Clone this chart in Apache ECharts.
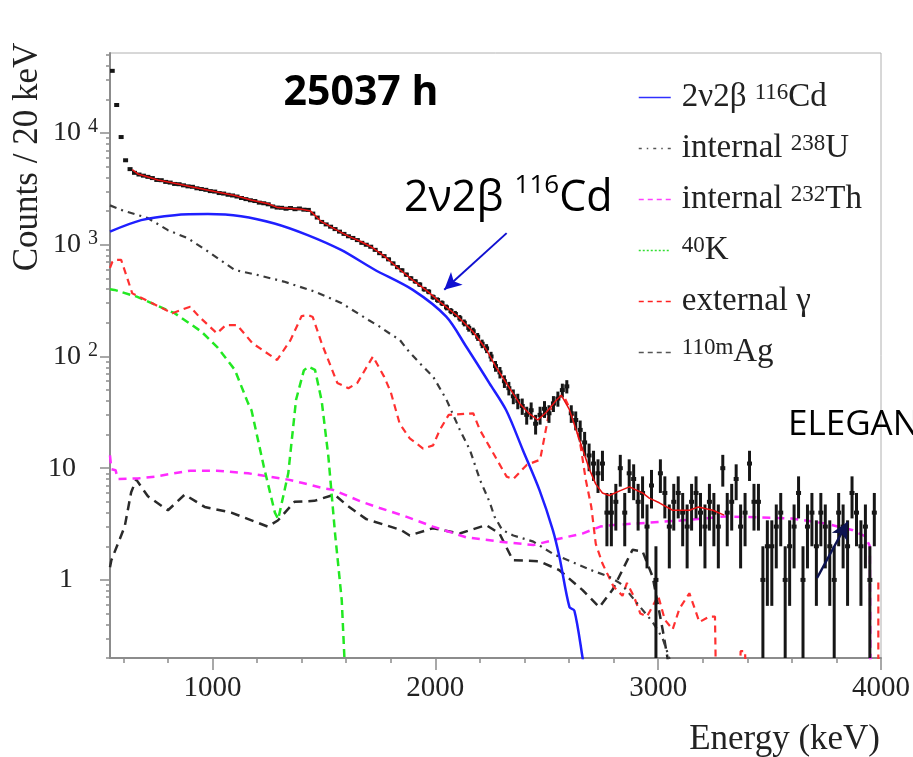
<!DOCTYPE html>
<html>
<head>
<meta charset="utf-8">
<script src="https://cdn.jsdelivr.net/npm/echarts@6/dist/echarts.min.js"></script>
<style>
  html, body { margin: 0; padding: 0; background: #ffffff; }
  #chart { width: 913px; height: 757px; }
</style>
</head>
<body>
<div id="chart"></div>
<script>
// Energy spectrum, 20 keV bins, first bin centred at 550 keV
const firstBinCenter = 550;
const binWidth = 20;
const counts = [
  36000, 17800, 9200, 5700, 4750, 4400, 4250, 4150, 4050, 3950,
  3800, 3780, 3650, 3600, 3500, 3480, 3400, 3330, 3300, 3200,
  3150, 3100, 3020, 2990, 2900, 2870, 2800, 2760, 2700, 2620,
  2560, 2500, 2460, 2380, 2350, 2300, 2200, 2150, 2140, 2100,
  2130, 2080, 2110, 2060, 2050, 1900, 1750, 1600, 1520, 1450,
  1380, 1310, 1250, 1190, 1150, 1100, 1040, 1000, 960, 900,
  840, 790, 740, 680, 630, 590, 540, 500, 470, 440,
  400, 380, 340, 320, 300, 275, 255, 240, 220, 200,
  180, 168, 150, 130, 118, 100, 82, 72, 60, 52,
  44, 40, 36, 30, 33, 25, 30, 34, 31, 38,
  42, 50, 54, 31, 27, 22, 17, 13, 11, 9,
  11, 4, 4, 5, 10, 4, 9, 8, 5, 6,
  3, 7, 1, 9, 6, 3, 5, 6, 4, 3,
  5, 6, 4, 3, 5, 4, 3, 10, 4, 5,
  8, 3, 4, 11, 5, 5, 1, 2, 2, 3,
  4, 1, 2, 3, 6, 1, 3, 4, 2, 4,
  3, 2, 1, 4, 3, 2, 6, 4, 2, 3,
  1, 4
];

// Fit model components, [energy keV, counts / 20 keV]
const totalFit = [[640,4700],[665,4300],[700,4100],[755,3800],[830,3550],[904,3310],[1009,2990],[1100,2760],[1173,2510],[1250,2330],[1293,2150],[1340,2120],[1400,2080],[1440,2000],[1487,1620],[1550,1380],[1607,1200],[1660,1080],[1711,960],[1771,790],[1840,600],[1900,480],[1960,390],[2019,310],[2094,235],[2168,167],[2228,116],[2273,80],[2333,52],[2378,38],[2420,31],[2460,27],[2500,32],[2540,40],[2565,45],[2600,34],[2632,22],[2660,15],[2691,9.8],[2720,7.2],[2750,6.0],[2781,5.7],[2830,6.3],[2871,6.8],[2930,6.0],[2960,5.4],[3005,4.9],[3065,4.2],[3140,4.2],[3180,4.5],[3245,4.2],[3296,3.8]];
const cd116 = [[540,1310],[680,1660],[830,1840],[979,1880],[1128,1800],[1278,1550],[1427,1220],[1577,898],[1726,600],[1899,394],[2049,227],[2139,122],[2243,57.5],[2318,33],[2393,14.5],[2467,6.4],[2527,2.8],[2557,1.6],[2602,0.57],[2624,0.53],[2661,0.2],[2670,0.15]];
const u238 = [[540,2250],[590,2050],[710,1730],[800,1350],[890,1140],[980,870],[1100,594],[1200,537],[1320,468],[1460,380],[1580,299],[1700,212],[1750,185],[1800,158],[1840,141],[1876,114],[1930,87],[1990,66],[2050,41],[2110,22],[2155,14.6],[2200,7.9],[2245,4.9],[2265,3.7],[2300,2.8],[2350,2.5],[2440,2.2],[2530,1.7],[2630,1.4],[2710,1.2],[2780,1.07],[2830,0.93],[2860,0.8],[2920,0.57],[2975,0.42],[3020,0.3],[3050,0.2],[3060,0.1]];
const th232 = [[540,13],[546,9.8],[565,9.6],[575,8.0],[665,8.1],[740,8.4],[900,9.5],[1020,9.5],[1160,9.0],[1340,7.9],[1400,7.4],[1500,6.6],[1540,6.4],[1670,5.0],[1750,4.4],[1850,3.8],[1990,3.0],[2140,2.4],[2290,2.2],[2440,2.05],[2540,2.3],[2660,2.6],[2740,3.0],[2800,3.1],[3000,3.3],[3100,3.4],[3300,3.7],[3600,3.55],[3750,3.2],[3870,2.8],[3930,2.45],[3950,2.0],[3953,0.1]];
const k40 = [[540,400],[560,394],[660,343],[830,244],[950,167],[1020,122],[1100,76],[1160,38],[1175,33],[1230,10.4],[1280,4.0],[1295,3.5],[1340,9],[1375,41],[1410,75],[1430,81],[1460,76],[1490,40],[1520,12.7],[1550,2.6],[1580,0.66],[1592,0.2],[1600,0.1]];
const extGamma = [[540,620],[550,700],[560,731],[590,731],[620,484],[640,367],[730,299],[820,244],[900,279],[940,227],[1020,161],[1060,191],[1110,191],[1180,131],[1290,93],[1350,140],[1400,230],[1430,234],[1450,225],[1490,131],[1560,58],[1610,52],[1650,58],[1720,100],[1770,66],[1800,48],[1840,25],[1885,18.5],[1945,15],[1990,16],[2020,22],[2060,30],[2170,31],[2200,22],[2260,13.6],[2320,8.4],[2350,8.0],[2410,10.7],[2470,11.9],[2485,17],[2510,31],[2560,44],[2575,45],[2620,29],[2650,16.7],[2675,7.9],[2700,4.5],[2720,2.1],[2750,1.4],[2800,0.87],[2840,0.72],[2860,0.94],[2890,0.72],[2920,0.5],[2950,0.47],[3000,0.72],[3030,0.44],[3065,0.36],[3095,0.55],[3140,0.76],[3185,0.42],[3230,0.47],[3255,0.47],[3260,0.1],null,[3365,0.1],[3370,0.23],[3390,0.23],[3395,0.1],null,[3988,0.95],[3988,0.1]];
const ag110m = [[540,1.3],[546,1.5],[606,3.0],[635,6.1],[658,7.9],[710,5.6],[800,4.2],[875,5.8],[965,4.5],[1084,4.0],[1248,3.0],[1293,3.4],[1368,5.0],[1457,5.1],[1547,5.8],[1607,4.6],[1690,3.5],[1846,2.8],[1885,2.5],[1989,2.9],[2109,2.6],[2228,3.1],[2288,2.6],[2348,1.5],[2467,1.47],[2557,1.22],[2661,0.81],[2736,0.57],[2796,0.82],[2885,1.86],[2930,1.8],[2975,1.07],[3020,0.36],[3042,0.2],[3050,0.1]];

// Axis settings
const xMin = 540, xMax = 4000;
const yMin = 0.2, yMax = 52000;
const xMajorTicks = [1000, 2000, 3000, 4000];
const xMinorTicks = [600, 800, 1200, 1400, 1600, 1800, 2200, 2400, 2600, 2800, 3200, 3400, 3600, 3800];
const yMajorTicks = [1, 10, 100, 1000, 10000];
const yMinorTicks = [0.2,0.3,0.4,0.5,0.6,0.7,0.8,0.9, 2,3,4,5,6,7,8,9, 20,30,40,50,60,70,80,90,
  200,300,400,500,600,700,800,900, 2000,3000,4000,5000,6000,7000,8000,9000, 20000,30000,40000,50000];

// Legend labels with isotope superscripts
const legendLabels = {
  cd116: '2ν2β {sup|116}Cd',
  u238: 'internal {sup|238}U',
  th232: 'internal {sup|232}Th',
  k40: '{sup|40}K',
  ext: 'external γ',
  ag: '{sup|110m}Ag'
};

const serif = '"Liberation Serif", "Times New Roman", serif';
const sans = '"Open Sans", "Liberation Sans", sans-serif';
const ink = '#222';
const axisGray = '#8c8c8c';

const dataPoints = counts.map((n, i) => [firstBinCenter + i * binWidth, n]);

function lineSeries(name, data, color, width, dash, z) {
  return {
    name: name, type: 'line', data: data, symbol: 'none', showSymbol: false,
    connectNulls: false, clip: true, z: z,
    lineStyle: { color: color, width: width, type: dash },
    itemStyle: { color: color },
    emphasis: { disabled: true }
  };
}

// legend swatch: thin line only, no centre marker
function legendItem(name, color, dash) {
  return { name: name, itemStyle: { opacity: 0 }, lineStyle: { width: 1.5, type: dash, color: color } };
}

const chart = echarts.init(document.getElementById('chart'), null, { renderer: 'canvas' });

chart.setOption({
  animation: false,
  backgroundColor: '#ffffff',
  grid: { left: 110, right: 31, top: 53, bottom: 99, show: true, borderColor: '#b0b0b0', borderWidth: 1, backgroundColor: 'transparent' },
  xAxis: [
    {
      type: 'value', min: xMin, max: xMax,
      axisLine: { show: true, lineStyle: { color: axisGray, width: 2 } },
      axisTick: { show: true, customValues: xMajorTicks, length: 12, inside: false, lineStyle: { color: axisGray, width: 1.5 } },
      axisLabel: { customValues: xMajorTicks, margin: 16, color: ink, fontFamily: serif, fontSize: 29,
        formatter: function (v) { return String(v); } },
      splitLine: { show: false }
    },
    {
      type: 'value', min: xMin, max: xMax, position: 'bottom',
      axisLine: { show: false },
      axisTick: { show: true, customValues: xMinorTicks, length: 5, inside: false, lineStyle: { color: axisGray, width: 1.5 } },
      axisLabel: { show: false },
      splitLine: { show: false }
    }
  ],
  yAxis: [
    {
      type: 'log', logBase: 10, min: yMin, max: yMax,
      axisLine: { show: true, lineStyle: { color: axisGray, width: 2 } },
      axisTick: { show: true, customValues: yMajorTicks, length: 10, inside: false, lineStyle: { color: axisGray, width: 1.5 } },
      axisLabel: {
        customValues: yMajorTicks, margin: 12,
        formatter: function (v) {
          const e = Math.round(Math.log10(v));
          if (e === 0) return '{b|1}{p1| }';
          if (e === 1) return '{b|10}{p2| }';
          return '{b|10}{s|' + e + '}';
        },
        rich: {
          b: { fontFamily: serif, fontSize: 28, color: ink, lineHeight: 32 },
          s: { fontFamily: serif, fontSize: 20, color: ink, lineHeight: 20, verticalAlign: 'top', padding: [0, 0, 0, 7] },
          p1: { width: 25 },
          p2: { width: 22 }
        }
      },
      splitLine: { show: false }
    },
    {
      type: 'log', logBase: 10, min: yMin, max: yMax, position: 'left',
      axisLine: { show: false },
      axisTick: { show: true, customValues: yMinorTicks, length: 4, inside: false, lineStyle: { color: axisGray, width: 1.5 } },
      axisLabel: { show: false },
      splitLine: { show: false }
    }
  ],
  legend: {
    orient: 'vertical', left: 633, top: 76,
    itemWidth: 32, itemHeight: 14, itemGap: 18,
    selectedMode: false,
    formatter: function (name) { return legendLabels[name]; },
    textStyle: {
      fontFamily: serif, fontSize: 33, color: ink, lineHeight: 32, padding: [0, 0, 0, 6],
      rich: { sup: { fontFamily: serif, fontSize: 23, color: ink, lineHeight: 22, verticalAlign: 'top' } }
    },
    data: [
      legendItem('cd116', '#3030ff', 'solid'),
      legendItem('u238', '#555', [3, 5, 1.5, 5]),
      legendItem('th232', '#ff40ff', [5, 4]),
      legendItem('k40', '#30e030', [2, 2]),
      legendItem('ext', '#ff2020', [5, 4]),
      legendItem('ag', '#555', [5, 4])
    ]
  },
  series: [
    lineSeries('ag', ag110m, '#2a2a2a', 2.5, [9, 6], 2),
    lineSeries('th232', th232, '#ff2bff', 2.5, [8, 6], 2),
    lineSeries('k40', k40, '#22e822', 2.5, [8, 5], 2),
    lineSeries('ext', extGamma, '#ff3030', 2.2, [7, 5], 2),
    lineSeries('u238', u238, '#3a3a3a', 2.2, [7, 5, 2, 5], 2),
    Object.assign(lineSeries('cd116', cd116, '#1f1fff', 2.5, 'solid', 3), { smooth: 0.3 }),
    {
      // measured counts with Poisson error bars (±√N)
      name: 'data', type: 'custom', data: dataPoints, z: 4, clip: true,
      renderItem: function (params, api) {
        const x = api.value(0), n = api.value(1);
        const err = Math.sqrt(n);
        const top = api.coord([x, Math.min(n + err, yMax)]);
        const bot = api.coord([x, Math.max(n - err, yMin)]);
        const c = api.coord([x, n]);
        return {
          type: 'group',
          children: [
            { type: 'line', shape: { x1: top[0], y1: top[1], x2: bot[0], y2: bot[1] }, style: { stroke: '#161616', lineWidth: 3 } },
            { type: 'rect', shape: { x: c[0] - 2.5, y: c[1] - 2, width: 5, height: 4 }, style: { fill: '#161616' } }
          ]
        };
      }
    },
    Object.assign(lineSeries('fit', totalFit, '#e81010', 1.5, 'solid', 5), {
      markLine: {
        silent: true, animation: false,
        symbol: ['none', 'arrow'], symbolSize: [13, 17],
        label: { show: false },
        data: [
          [{ coord: [2320, 1270], lineStyle: { color: '#1010d0', width: 2, type: 'solid' } }, { coord: [2040, 395] }],
          [{ coord: [3713, 1.04], lineStyle: { color: '#0c1250', width: 2.5, type: 'solid' } }, { coord: [3850, 3.3] }]
        ]
      }
    })
  ],
  graphic: [
    {
      type: 'text', x: 28, y: 157, rotation: Math.PI / 2,
      style: { text: 'Counts / 20 keV', font: '35px ' + serif, fill: ink, textAlign: 'center', textVerticalAlign: 'middle', align: 'center', verticalAlign: 'middle' }
    },
    {
      type: 'text', x: 880, y: 740,
      style: { text: 'Energy (keV)', font: '35px ' + serif, fill: ink, textAlign: 'right', textVerticalAlign: 'middle', align: 'right', verticalAlign: 'middle' }
    },
    {
      type: 'text', x: 361, y: 93,
      style: { text: '25037 h', font: 'bold 41px ' + sans, fill: '#000', textAlign: 'center', textVerticalAlign: 'middle', align: 'center', verticalAlign: 'middle' }
    },
    {
      type: 'text', x: 404, y: 199,
      style: {
        text: '{a|2ν2β }{s|116}{a|Cd}', fill: '#000',
        textAlign: 'left', textVerticalAlign: 'middle', align: 'left', verticalAlign: 'middle',
        rich: {
          a: { fontFamily: sans, fontSize: 43, lineHeight: 52, fill: '#000', color: '#000' },
          s: { fontFamily: sans, fontSize: 26, lineHeight: 34, verticalAlign: 'top', fill: '#000', color: '#000' }
        }
      }
    },
    {
      type: 'text', x: 788, y: 425,
      style: { text: 'ELEGANT VI', font: '35px ' + sans, fill: '#000', textAlign: 'left', textVerticalAlign: 'middle', align: 'left', verticalAlign: 'middle' }
    }
  ]
});
</script>
</body>
</html>
